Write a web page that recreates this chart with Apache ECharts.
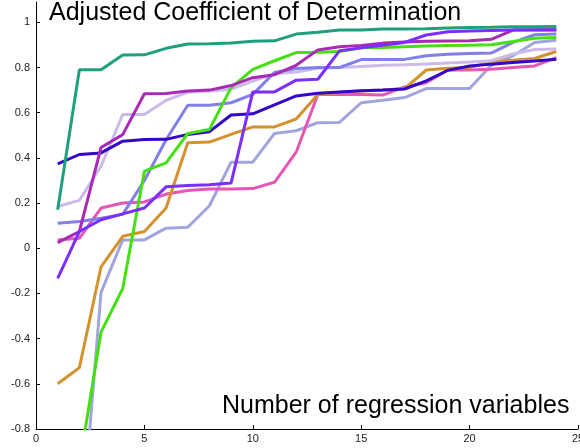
<!DOCTYPE html>
<html>
<head>
<meta charset="utf-8">
<script src="https://cdn.jsdelivr.net/npm/echarts@6/dist/echarts.min.js"></script>
<style>
  html, body { margin: 0; padding: 0; background: #fff; }
</style>
</head>
<body>
<div id="main" style="width: 580px;height:448px;"></div>
<script>
// number of regression variables
var nVars = [1, 2, 3, 4, 5, 6, 7, 8, 9, 10, 11, 12, 13, 14, 15, 16, 17, 18, 19, 20, 21, 22, 23, 24];

var teal = [0.17, 0.79, 0.79, 0.855, 0.856, 0.885, 0.904, 0.905, 0.908, 0.916, 0.918, 0.948, 0.956, 0.966, 0.966, 0.970, 0.970, 0.972, 0.975, 0.977, 0.978, 0.980, 0.981, 0.982];
var magenta = [0.025, 0.074, 0.446, 0.503, 0.684, 0.685, 0.696, 0.70, 0.72, 0.755, 0.768, 0.81, 0.878, 0.892, 0.898, 0.908, 0.913, 0.916, 0.917, 0.918, 0.925, 0.966, 0.966, 0.966];
var lavender = [0.185, 0.212, 0.363, 0.592, 0.592, 0.655, 0.69, 0.696, 0.704, 0.74, 0.772, 0.78, 0.797, 0.80, 0.805, 0.81, 0.812, 0.816, 0.82, 0.824, 0.83, 0.86, 0.88, 0.882];
var darkBlue = [0.373, 0.415, 0.422, 0.474, 0.481, 0.482, 0.504, 0.516, 0.59, 0.595, 0.635, 0.674, 0.686, 0.692, 0.697, 0.70, 0.705, 0.741, 0.788, 0.807, 0.815, 0.822, 0.829, 0.837];
var midBlue = [0.111, 0.118, 0.133, 0.15, 0.30, 0.48, 0.633, 0.633, 0.644, 0.681, 0.778, 0.796, 0.80, 0.80, 0.835, 0.835, 0.836, 0.852, 0.859, 0.862, 0.864, 0.911, 0.945, 0.948];
var green = [-1.5, -0.96, -0.371, -0.178, 0.341, 0.378, 0.508, 0.526, 0.711, 0.792, 0.83, 0.866, 0.868, 0.871, 0.887, 0.889, 0.892, 0.895, 0.897, 0.899, 0.901, 0.915, 0.93, 0.933];
var orange = [-0.60, -0.529, -0.082, 0.053, 0.074, 0.178, 0.467, 0.47, 0.504, 0.537, 0.537, 0.572, 0.681, 0.69, 0.696, 0.70, 0.707, 0.789, 0.797, 0.80, 0.825, 0.832, 0.84, 0.871];
var pink = [0.037, 0.044, 0.178, 0.2, 0.205, 0.24, 0.256, 0.262, 0.262, 0.264, 0.292, 0.425, 0.681, 0.681, 0.681, 0.678, 0.714, 0.733, 0.789, 0.789, 0.792, 0.80, 0.807, 0.844];
var violet = [-0.133, 0.074, 0.126, 0.152, 0.178, 0.272, 0.278, 0.281, 0.289, 0.692, 0.692, 0.744, 0.748, 0.874, 0.887, 0.899, 0.911, 0.944, 0.958, 0.962, 0.964, 0.966, 0.967, 0.967];
var periwinkle = [-2.0, -1.36, -0.195, 0.037, 0.037, 0.089, 0.093, 0.188, 0.381, 0.381, 0.508, 0.52, 0.556, 0.557, 0.644, 0.655, 0.667, 0.707, 0.707, 0.707, 0.81, 0.852, 0.911, 0.921];

var seriesList = [
  { data: periwinkle, color: '#a2a5dd' },
  { data: pink, color: '#e657b3' },
  { data: orange, color: '#d4922e' },
  { data: lavender, color: '#cbbbe9' },
  { data: midBlue, color: '#8080e8' },
  { data: darkBlue, color: '#3408c8' },
  { data: green, color: '#44e012' },
  { data: magenta, color: '#a82ab6' },
  { data: violet, color: '#7b2eff' },
  { data: teal, color: '#1fa07c' }
];

var myChart = echarts.init(document.getElementById('main'));

var option = {
  animation: false,
  title: [
    {
      text: 'Adjusted Coefficient of Determination',
      left: 49, top: 1, padding: 0,
      textStyle: { fontSize: 25, fontWeight: 'normal', color: '#000', fontFamily: 'Liberation Sans' }
    },
    {
      text: 'Number of regression variables',
      left: 222, top: 394, padding: 0,
      textStyle: { fontSize: 25, fontWeight: 'normal', color: '#000', fontFamily: 'Liberation Sans' }
    }
  ],
  grid: { left: 36, right: 2, top: 2, bottom: 19, outerBoundsMode: 'none' },
  xAxis: {
    type: 'value',
    min: 0, max: 25, interval: 5,
    axisLine: { onZero: false, lineStyle: { color: '#000', width: 1 } },
    axisTick: { inside: true, length: 4, lineStyle: { color: '#000' } },
    axisLabel: { color: '#222', fontSize: 11, margin: 4, fontFamily: 'Liberation Sans', hideOverlap: false },
    splitLine: { show: false }
  },
  yAxis: {
    type: 'value',
    min: -0.8, max: 1.09, interval: 0.2,
    axisLine: { show: true, lineStyle: { color: '#000', width: 1 } },
    axisTick: { show: true, inside: true, length: 4, lineStyle: { color: '#000' } },
    axisLabel: {
      color: '#222', fontSize: 11, margin: 6, fontFamily: 'Liberation Sans',
      showMaxLabel: false,
      formatter: function (v) {
        var r = Math.round(v * 10) / 10;
        if (Math.abs(v - r) > 1e-6) return '';
        return String(r);
      }
    },
    splitLine: { show: false }
  },
  series: seriesList.map(function (s) {
    return {
      type: 'line',
      data: nVars.map(function (x, i) { return [x, s.data[i]]; }),
      showSymbol: false,
      clip: true,
      lineStyle: { color: s.color, width: 3 },
      itemStyle: { color: s.color }
    };
  })
};

myChart.setOption(option);
window.addEventListener('resize', function () {
  myChart.resize();
});
</script>
</body>
</html>
